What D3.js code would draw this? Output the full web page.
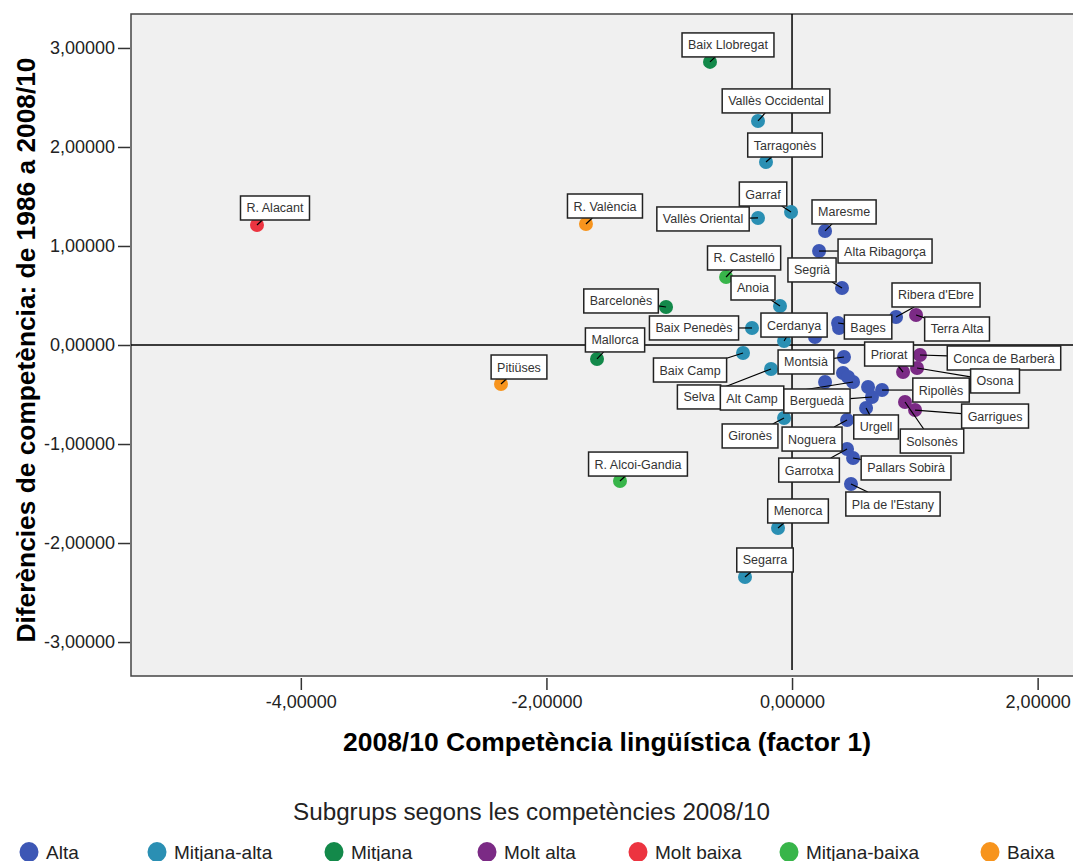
<!DOCTYPE html>
<html>
<head>
<meta charset="utf-8">
<script src="https://cdn.jsdelivr.net/npm/d3@7"></script>
<style>
  body { margin: 0; background: #fff; }
  text { font-family: "Liberation Sans", Arial, sans-serif; }
</style>
</head>
<body>
<div id="chart"></div>
<script>

// comarques / regions
const names = [
  "R. Alacant", "R. València", "Pitiüses", "Baix Llobregat", "Vallès Occidental",
  "Tarragonès", "Garraf", "Vallès Oriental", "R. Castelló", "Anoia",
  "Maresme", "Alta Ribagorça", "Segrià", "Ribera d'Ebre", "Terra Alta",
  "Bages", "Cerdanya", "Barcelonès", "Mallorca", "Baix Penedès",
  "Baix Camp", "Selva", "Alt Camp", "Berguedà", "Montsià",
  "Priorat", "Conca de Barberà", "Osona", "Ripollès", "Garrigues",
  "Solsonès", "Urgell", "Gironès", "Noguera", "Garrotxa",
  "Pallars Sobirà", "Pla de l'Estany", "Menorca", "Segarra", "R. Alcoi-Gandia",
  "", "", "", "", "", ""
];
const factor1 = [
  -4.357, -1.678, -2.370, -0.668, -0.277,
  -0.212, -0.008, -0.277, -0.537, -0.098,
  0.269, 0.220, 0.407, 0.847, 1.010,
  0.375, -0.065, -1.026, -1.588, -0.326,
  -0.399, -0.171, 0.497, 0.651, 0.423,
  0.904, 1.042, 1.018, 0.733, 1.002,
  0.920, 0.603, -0.065, 0.448, 0.448,
  0.497, 0.480, -0.114, -0.383, -1.401,
  0.383, 0.187, 0.269, 0.415, 0.456, 0.619
];
const diff = [
  1.212, 1.222, -0.394, 2.859, 2.263,
  1.848, 1.343, 1.283, 0.687, 0.394,
  1.152, 0.949, 0.576, 0.283, 0.303,
  0.222, 0.040, 0.384, -0.141, 0.172,
  -0.081, -0.242, -0.374, -0.525, -0.121,
  -0.273, -0.101, -0.232, -0.455, -0.657,
  -0.576, -0.636, -0.737, -0.758, -1.051,
  -1.141, -1.404, -1.848, -2.343, -1.374,
  0.172, 0.081, -0.374, -0.283, -0.323, -0.424
];
const groups = [
  "Molt baixa", "Baixa", "Baixa", "Mitjana", "Mitjana-alta",
  "Mitjana-alta", "Mitjana-alta", "Mitjana-alta", "Mitjana-baixa", "Mitjana-alta",
  "Alta", "Alta", "Alta", "Alta", "Molt alta",
  "Alta", "Mitjana-alta", "Mitjana", "Mitjana", "Mitjana-alta",
  "Mitjana-alta", "Mitjana-alta", "Alta", "Alta", "Alta",
  "Molt alta", "Molt alta", "Molt alta", "Alta", "Molt alta",
  "Molt alta", "Alta", "Mitjana-alta", "Alta", "Alta",
  "Alta", "Alta", "Mitjana-alta", "Mitjana-alta", "Mitjana-baixa",
  "Alta", "Alta", "Alta", "Alta", "Alta", "Alta"
];

const groupNames = ["Alta", "Mitjana-alta", "Mitjana", "Molt alta", "Molt baixa", "Mitjana-baixa", "Baixa"];
const groupColors = ["#3d57b5", "#2a8fb3", "#13894a", "#7b2a85", "#ec3440", "#38b54a", "#f7941d"];

const yTicks = [-3, -2, -1, 0, 1, 2, 3];
const xTicks = [-4, -2, 0, 2];

// label box placement (px offset of box centre from its point)
const labelOffsets = {
  "R. Alacant": [18, -17], "R. València": [19, -18], "Pitiüses": [18, -17],
  "Baix Llobregat": [18, -17], "Vallès Occidental": [18, -20], "Tarragonès": [19, -17],
  "Garraf": [-28, -18], "Vallès Oriental": [-55, 1], "R. Castelló": [18, -19],
  "Anoia": [-27, -18], "Maresme": [19, -19], "Alta Ribagorça": [66, 0],
  "Segrià": [-30, -18], "Ribera d'Ebre": [40, -22], "Terra Alta": [41, 14],
  "Bages": [30, 4], "Cerdanya": [10, -16], "Barcelonès": [-45, -6],
  "Mallorca": [18, -19], "Baix Penedès": [-58, 0], "Baix Camp": [-53, 17],
  "Selva": [-72, 28], "Alt Camp": [-101, 16], "Berguedà": [-55, 4],
  "Montsià": [-38, 5], "Priorat": [-14, -18], "Conca de Barberà": [84, 3],
  "Osona": [78, 13], "Ripollès": [59, 0], "Garrigues": [80, 6],
  "Solsonès": [27, 39], "Urgell": [10, 19], "Gironès": [-34, 18],
  "Noguera": [-35, 19], "Garrotxa": [-38, 21], "Pallars Sobirà": [53, 10],
  "Pla de l'Estany": [42, 20], "Menorca": [20, -17], "Segarra": [20, -17],
  "R. Alcoi-Gandia": [18, -17]
};

const width = 1073, height = 861;
const plot = { left: 131, top: 14, right: 1080, bottom: 676 };

const svg = d3.select("#chart")
  .append("svg")
  .attr("width", width)
  .attr("height", height);

const xScale = d3.scaleLinear()
  .domain([-5.383, 2.345])
  .range([plot.left, plot.right]);

const yScale = d3.scaleLinear()
  .domain([-3.343, 3.343])
  .range([plot.bottom, plot.top]);

const color = d3.scaleOrdinal().domain(groupNames).range(groupColors);

const loc = d3.formatLocale({ decimal: ",", thousands: ".", grouping: [3], currency: ["", "€"], minus: "-" });
const fmt = loc.format(".5f");

// plot background
svg.append("rect")
  .attr("x", plot.left)
  .attr("y", plot.top)
  .attr("width", plot.right - plot.left)
  .attr("height", plot.bottom - plot.top)
  .attr("fill", "#f0f0f0")
  .attr("stroke", "#444")
  .attr("stroke-width", 1.5);

// y axis
const yAxis = svg.append("g")
  .attr("transform", `translate(${plot.left - 1}, 0)`)
  .call(d3.axisLeft(yScale).tickValues(yTicks).tickFormat(fmt).tickSize(12).tickSizeOuter(0).tickPadding(3));
yAxis.select(".domain").remove();
yAxis.selectAll("line").attr("stroke", "#333").attr("stroke-width", 1.5);
yAxis.selectAll("text").attr("font-size", "18px").attr("fill", "#222").attr("font-family", "Liberation Sans, Arial");

// x axis
const xAxis = svg.append("g")
  .attr("transform", `translate(0, ${plot.bottom + 2})`)
  .call(d3.axisBottom(xScale).tickValues(xTicks).tickFormat(fmt).tickSize(12).tickSizeOuter(0).tickPadding(5));
xAxis.select(".domain").remove();
xAxis.selectAll("line").attr("stroke", "#333").attr("stroke-width", 1.5);
xAxis.selectAll("text").attr("font-size", "18px").attr("fill", "#222").attr("font-family", "Liberation Sans, Arial");

// reference lines at zero
svg.append("line")
  .attr("x1", plot.left).attr("x2", plot.right)
  .attr("y1", yScale(0)).attr("y2", yScale(0))
  .attr("stroke", "#000").attr("stroke-width", 1.5);
svg.append("line")
  .attr("x1", xScale(0)).attr("x2", xScale(0))
  .attr("y1", plot.top).attr("y2", plot.bottom - 6)
  .attr("stroke", "#000").attr("stroke-width", 1.5);

const data = names.map((n, i) => ({ name: n, x: factor1[i], y: diff[i], group: groups[i] }));

// points
svg.selectAll(".point")
  .data(data)
  .enter()
  .append("circle")
    .attr("class", "point")
    .attr("cx", (d) => xScale(d.x))
    .attr("cy", (d) => yScale(d.y))
    .attr("r", 7)
    .attr("fill", (d) => color(d.group));

// labels: measure text first, then box + leader line
const labelled = data.filter((d) => labelOffsets[d.name]);
const labelG = svg.append("g");
const lineG = labelG.append("g");
const boxG = labelG.append("g");

labelled.forEach((d) => {
  const px = xScale(d.x), py = yScale(d.y);
  const off = labelOffsets[d.name];
  const cx = px + off[0], cy = py + off[1];
  const g = boxG.append("g");
  const rect = g.append("rect");
  const t = g.append("text")
    .attr("x", cx)
    .attr("y", cy + 4.5)
    .attr("text-anchor", "middle")
    .attr("font-size", "12.5px")
    .attr("fill", "#333")
    .text(d.name);
  const w = t.node().getComputedTextLength() + 12, h = 24;
  const x0 = cx - w / 2, y0 = cy - h / 2;
  rect.attr("x", x0).attr("y", y0).attr("width", w).attr("height", h)
    .attr("fill", "#fff").attr("stroke", "#222").attr("stroke-width", 1.5);
  // leader line: from the point towards the box centre, stopping at the box edge
  const dx = cx - px, dy = cy - py;
  const tx = dx === 0 ? Infinity : (Math.abs(dx) - w / 2) / Math.abs(dx);
  const ty = dy === 0 ? Infinity : (Math.abs(dy) - h / 2) / Math.abs(dy);
  const s = Math.max(0, Math.max(Math.min(tx, 1), Math.min(ty, 1)) === Infinity ? 0 : Math.max(isFinite(tx) ? tx : -1, isFinite(ty) ? ty : -1));
  lineG.append("line")
    .attr("x1", px).attr("y1", py)
    .attr("x2", px + dx * s).attr("y2", py + dy * s)
    .attr("stroke", "#000").attr("stroke-width", 1.2);
});

// axis titles
svg.append("text")
  .attr("x", (343 + 871) / 2)
  .attr("y", 751)
  .attr("text-anchor", "middle")
  .attr("font-size", "25px")
  .attr("font-weight", "bold")
  .attr("textLength", 528)
  .attr("lengthAdjust", "spacingAndGlyphs")
  .text("2008/10 Competència lingüística (factor 1)");

svg.append("text")
  .attr("transform", `translate(35, ${yScale(0) + 5}) rotate(-90)`)
  .attr("text-anchor", "middle")
  .attr("font-size", "25px")
  .attr("font-weight", "bold")
  .attr("textLength", 585)
  .attr("lengthAdjust", "spacingAndGlyphs")
  .text("Diferències de competència: de 1986 a 2008/10");

// legend
svg.append("text")
  .attr("x", (293 + 770) / 2)
  .attr("y", 820)
  .attr("text-anchor", "middle")
  .attr("font-size", "23px")
  .attr("fill", "#222")
  .attr("textLength", 477)
  .attr("lengthAdjust", "spacingAndGlyphs")
  .text("Subgrups segons les competències 2008/10");

const legendX = [29, 157, 334, 487, 638, 789, 990];
const legend = svg.selectAll(".legend")
  .data(groupNames)
  .enter()
  .append("g")
    .attr("class", "legend")
    .attr("transform", (d, i) => `translate(${legendX[i]}, 852)`);
legend.append("ellipse")
  .attr("rx", 9.5).attr("ry", 10)
  .attr("fill", (d) => color(d));
legend.append("text")
  .attr("x", 17)
  .attr("y", 7)
  .attr("font-size", "19px")
  .attr("fill", "#222")
  .text((d) => d);

</script>
</body>
</html>
